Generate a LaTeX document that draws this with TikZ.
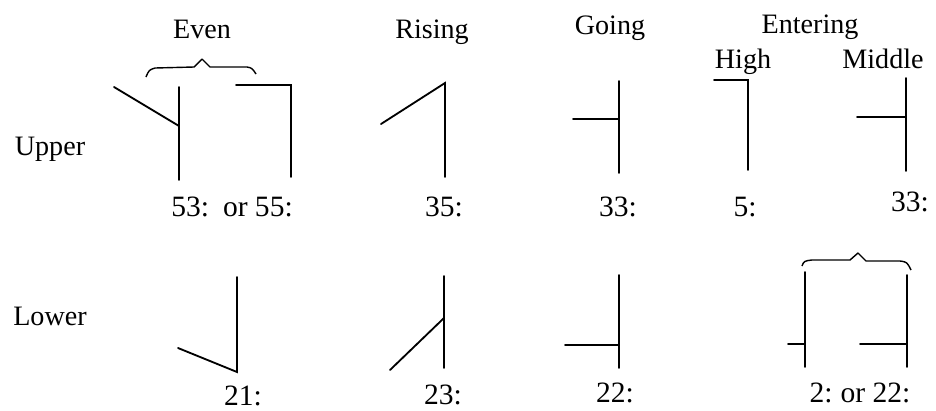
\documentclass[tikz,border=0pt]{standalone}
\usepackage{fontspec}
\setmainfont{Liberation Serif}
\usetikzlibrary{positioning}

\tikzset{
  head/.style={font=\fontsize{20}{24}\selectfont, anchor=base, inner sep=0pt},
  pitch/.style={font=\fontsize{21}{25}\selectfont, anchor=base, inner sep=0pt},
  stroke/.style={line width=1.3pt, line cap=round, line join=miter},
  curly/.style={line width=1pt, line join=round}
}

\begin{document}
\begin{tikzpicture}[x=0.025cm, y=-0.025cm]
\useasboundingbox (0,0) rectangle (936,410);

% Column heads
\node[head] (even) at (202,38) {Even};
\node[head] (rising) at (432,38) {Rising};
\node[head] (going) at (610,34) {Going};
\node[head] (entering) at (810,33) {Entering};
\node[head] (high) at (743,68) {High};
\node[head] (middle) at (883,68) {Middle};

% Row heads
\node[head] (upper) at (50,155) {Upper};
\node[head] (lower) at (50,325) {Lower};

% Upper even — two forms under one brace
\draw[curly] (146,77) .. controls (149,70) .. (155,68) -- (194,67) -- (202,59) -- (210,67) -- (247,67) .. controls (252,68) .. (256,74);
\draw[stroke] (114,87) -- (179,126);
\draw[stroke] (179,87) -- (179,180);
\draw[stroke] (236,85) -- (291,85) -- (291,177);
\node[pitch] (n53) at (232,216) {53:\hspace{0.35cm}or 55:};

% Upper rising
\draw[stroke] (381,124) -- (445,83) -- (445,177);
\node[pitch] (n35) at (444,216) {35:};

% Upper going
\draw[stroke] (573,119) -- (619,119);
\draw[stroke] (619,81) -- (619,173);
\node[pitch] (n33a) at (618,216) {33:};

% Upper entering — high
\draw[stroke] (714,80) -- (748,80) -- (748,170);
\node[pitch] (n5) at (745,216) {5:};

% Upper entering — middle
\draw[stroke] (857,117) -- (906,117);
\draw[stroke] (906,78) -- (906,171);
\node[pitch] (n33b) at (910,211) {33:};

% Lower even
\draw[stroke] (237,277) -- (237,372) -- (178,348);
\node[pitch] (n21) at (243,405) {21:};

% Lower rising
\draw[stroke] (390,370) -- (444,318);
\draw[stroke] (444,276) -- (444,368);
\node[pitch] (n23) at (443,404) {23:};

% Lower going
\draw[stroke] (565,345) -- (619,345);
\draw[stroke] (619,275) -- (619,368);
\node[pitch] (n22a) at (615,402) {22:};

% Lower entering — two forms under one brace
\draw[curly] (802,266) .. controls (804,261) .. (812,260) -- (850,260) -- (858,253) -- (866,261) -- (900,261) .. controls (907,262) .. (911,270);
\draw[stroke] (788,344) -- (805,344);
\draw[stroke] (805,272) -- (805,367);
\draw[stroke] (860,344) -- (907,344);
\draw[stroke] (907,275) -- (907,367);
\node[pitch] (n2) at (860,402) {2:\hspace{0.2cm}or 22:};

\end{tikzpicture}
\end{document}
